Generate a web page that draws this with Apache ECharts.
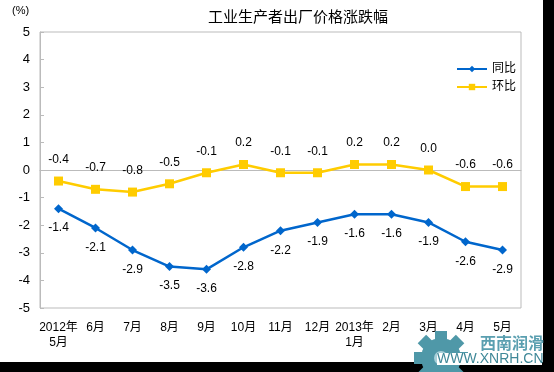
<!DOCTYPE html>
<html><head><meta charset="utf-8">
<script src="https://cdn.jsdelivr.net/npm/echarts@6/dist/echarts.min.js"></script>
<style>html,body{margin:0;padding:0;background:#000;}#c{width:554px;height:372px;}</style>
</head><body><div id="c"></div>
<script>
const categories = ['2012年\n5月','6月','7月','8月','9月','10月','11月','12月','2013年\n1月','2月','3月','4月','5月'];
const yoy = [-1.4,-2.1,-2.9,-3.5,-3.6,-2.8,-2.2,-1.9,-1.6,-1.6,-1.9,-2.6,-2.9];
const mom = [-0.4,-0.7,-0.8,-0.5,-0.1,0.2,-0.1,-0.1,0.2,0.2,0.0,-0.6,-0.6];
const yTicks = [-5,5,1];
const FONT = 'Arial, "Liberation Sans", "Noto Sans CJK SC", sans-serif';
const chart = echarts.init(document.getElementById('c'), null, {renderer:'canvas'});
const gear = [];
for (let i = 0; i < 8; i++) {
  gear.push({type:'rect', z:50, x:441, y:358, rotation: i*Math.PI/4, shape:{x:-6,y:-27,width:12,height:10}, style:{fill:'#4f98a8'}});
}
chart.setOption({
  backgroundColor:'#000',
  animation:false,
  textStyle:{fontFamily:FONT},
  title:{text:'工业生产者出厂价格涨跌幅', left:203, top:5, textStyle:{fontSize:15, fontWeight:'normal', color:'#000', fontFamily:FONT}},
  legend:{orient:'vertical', left:451, top:58, itemWidth:30, itemHeight:8, itemGap:6,
    textStyle:{fontSize:12,color:'#000'}, data:['同比','环比']},
  grid:{left:40, top:32, right:33, bottom:64, show:true, borderColor:'#bbb', borderWidth:1, backgroundColor:'#fff'},
  xAxis:{type:'category', data:categories, boundaryGap:true,
    axisLine:{lineStyle:{color:'#bbb'}},
    axisTick:{inside:true, length:4, lineStyle:{color:'#bbb'}},
    axisLabel:{color:'#000', fontSize:12, margin:12, lineHeight:15, interval:0}},
  yAxis:{type:'value', min:yTicks[0], max:yTicks[1], interval:yTicks[2],
    axisLine:{show:true, lineStyle:{color:'#bbb'}},
    axisTick:{show:true, inside:true, length:4, lineStyle:{color:'#bbb'}},
    splitLine:{show:false},
    axisLabel:{color:'#000', fontSize:13, margin:10}},
  graphic:[
    {type:'rect', z:-10, shape:{x:0,y:0,width:543,height:362}, style:{fill:'#fff'}},
    {type:'text', left:12, top:5, style:{text:'(%)', fontSize:11, fill:'#000', fontFamily:FONT}},
    ...gear,
    {type:'circle', z:51, shape:{cx:441,cy:358,r:20}, style:{fill:'#4f98a8'}},
    {type:'circle', z:52, shape:{cx:441,cy:358,r:7}, style:{fill:'#a8d0da'}},
    {type:'rect', z:55, shape:{x:437,y:353,width:105,height:12}, style:{fill:'#fff'}},
    {type:'text', z:60, left:480, top:335, style:{text:'西南润滑', fontSize:16, fontWeight:'bold', fill:'#5a9fb0', fontFamily:'"Noto Sans CJK SC", sans-serif'}},
    {type:'text', z:60, left:437, top:352, style:{text:'WWW.XNRH.CN', fontSize:14, fill:'#3f8898', fontFamily:FONT}}
  ],
  series:[
    {name:'同比', type:'line', data:yoy, color:'#0066cc', symbol:'diamond', symbolSize:9,
     lineStyle:{width:2.5, color:'#0066cc'}, itemStyle:{color:'#0066cc'},
     label:{show:true, position:'bottom', distance:9, fontSize:12, color:'#000', formatter:p=>p.value.toFixed(1)}},
    {name:'环比', type:'line', data:mom, color:'#ffcc00', symbol:'rect', symbolSize:9,
     lineStyle:{width:2.5, color:'#ffcc00'}, itemStyle:{color:'#ffcc00'},
     label:{show:true, position:'top', distance:11, fontSize:12, color:'#000', formatter:p=>p.value.toFixed(1)}}
  ]
});
</script></body></html>
